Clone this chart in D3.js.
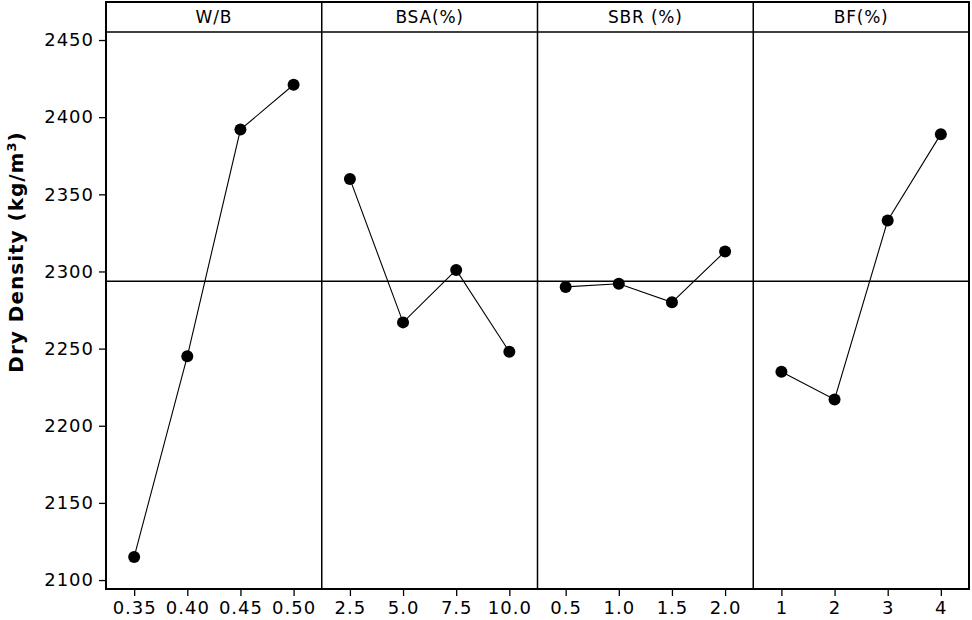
<!DOCTYPE html>
<html>
<head>
<meta charset="utf-8">
<script src="https://cdn.jsdelivr.net/npm/d3@7"></script>
<style>
  body { margin: 0; background: #fff; }
  text { font-family: "DejaVu Sans", Verdana, sans-serif; fill: #000; }
</style>
</head>
<body>
<script>
// main effects plot data
const factors = ["W/B", "BSA(%)", "SBR (%)", "BF(%)"];
const wbLevels = ["0.35", "0.40", "0.45", "0.50"];
const bsaLevels = ["2.5", "5.0", "7.5", "10.0"];
const sbrLevels = ["0.5", "1.0", "1.5", "2.0"];
const bfLevels = ["1", "2", "3", "4"];
const wbValues = [2115, 2245, 2392, 2421];
const bsaValues = [2360, 2267, 2301, 2248];
const sbrValues = [2290, 2292, 2280, 2313];
const bfValues = [2235, 2217, 2333, 2389];
const yTicks = [2100, 2150, 2200, 2250, 2300, 2350, 2400, 2450];

const levels = [wbLevels, bsaLevels, sbrLevels, bfLevels];
const values = [wbValues, bsaValues, sbrValues, bfValues];
const grandMean = d3.mean(values.flat());

const w = 972;
const h = 620;
const padLeft = 106;
const padRight = 969;
const padTop = 2;
const headH = 30;
const padBottom = 589;

const svg = d3.select("body").append("svg")
  .attr("width", w)
  .attr("height", h);

const yScale = d3.scaleLinear()
  .domain([2094.2, 2455.2])
  .range([padBottom, padTop + headH]);

const panelScale = d3.scaleBand()
  .domain(factors)
  .range([padLeft, padRight]);

const pw = panelScale.bandwidth();

// y axis
svg.append("g")
  .attr("transform", "translate(" + padLeft + ",0)")
  .call(d3.axisLeft(yScale).tickValues(yTicks).tickSize(7).tickPadding(5).tickFormat(d3.format("d")))
  .call(g => g.select(".domain").remove())
  .call(g => g.selectAll("line").attr("stroke", "#000").attr("stroke-width", 1.3))
  .call(g => g.selectAll("text").attr("font-size", 18).attr("letter-spacing", 1).attr("font-family", "DejaVu Sans"));

// y label
const yLab = svg.append("text")
  .attr("transform", "translate(23,252) rotate(-90)")
  .attr("text-anchor", "middle")
  .attr("font-size", 20)
  .attr("letter-spacing", 1)
  .attr("font-weight", "bold");
yLab.append("tspan").text("Dry Density (kg/m");
yLab.append("tspan").attr("baseline-shift", "super").attr("font-size", 13).text("3");
yLab.append("tspan").text(")");

factors.forEach((f, i) => {
  const x0 = panelScale(f);
  const xScale = d3.scalePoint()
    .domain(levels[i])
    .range([x0, x0 + pw])
    .padding(0.53);

  const g = svg.append("g");

  // header text
  g.append("text")
    .attr("x", x0 + pw / 2)
    .attr("y", padTop + headH / 2 + 6)
    .attr("text-anchor", "middle")
    .attr("font-size", 17)
    .attr("letter-spacing", 0.8)
    .text(f);

  // x axis
  svg.append("g")
    .attr("transform", "translate(0," + padBottom + ")")
    .call(d3.axisBottom(xScale).tickSize(7).tickPadding(5))
    .call(g => g.select(".domain").remove())
    .call(g => g.selectAll("line").attr("stroke", "#000").attr("stroke-width", 1.3))
    .call(g => g.selectAll("text").attr("font-size", 18).attr("letter-spacing", 1).attr("font-family", "DejaVu Sans"));

  const pts = levels[i].map((l, j) => [xScale(l), yScale(values[i][j])]);

  g.append("path")
    .attr("d", d3.line()(pts))
    .attr("fill", "none")
    .attr("stroke", "#000")
    .attr("stroke-width", 1.1);

  g.selectAll("circle")
    .data(pts)
    .enter()
    .append("circle")
    .attr("cx", (d) => d[0])
    .attr("cy", (d) => d[1])
    .attr("r", 6)
    .attr("fill", "#000");

  if (i > 0) {
    svg.append("line")
      .attr("x1", x0).attr("x2", x0)
      .attr("y1", padTop).attr("y2", padBottom)
      .attr("stroke", "#000")
      .attr("stroke-width", 1.5);
  }
});

// grand mean reference line
svg.append("line")
  .attr("x1", padLeft).attr("x2", padRight)
  .attr("y1", yScale(grandMean)).attr("y2", yScale(grandMean))
  .attr("stroke", "#000")
  .attr("stroke-width", 1.5);

// header separator
svg.append("line")
  .attr("x1", padLeft).attr("x2", padRight)
  .attr("y1", padTop + headH).attr("y2", padTop + headH)
  .attr("stroke", "#000")
  .attr("stroke-width", 1.5);

// outer frame
svg.append("rect")
  .attr("x", padLeft).attr("y", padTop)
  .attr("width", padRight - padLeft)
  .attr("height", padBottom - padTop)
  .attr("fill", "none")
  .attr("stroke", "#000")
  .attr("stroke-width", 2);
</script>
</body>
</html>
